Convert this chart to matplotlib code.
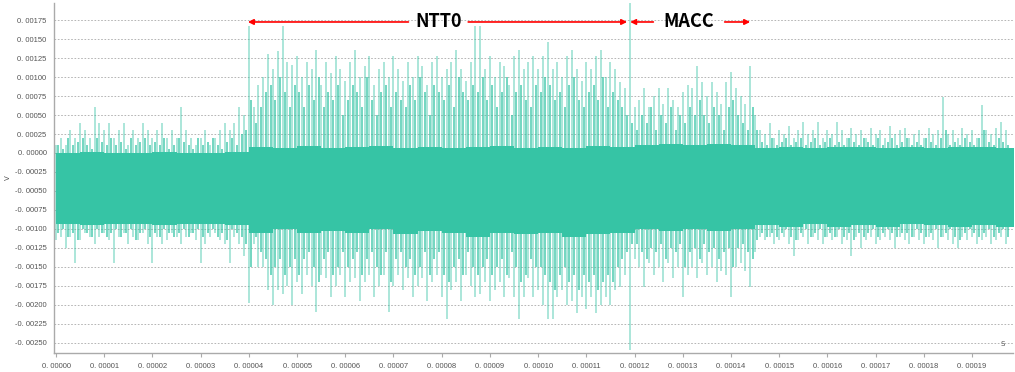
import numpy as np
import matplotlib.pyplot as plt
from matplotlib.ticker import FixedLocator, FuncFormatter

# trace envelope, one value per 1 us bin, in units of 1e-4 V
spike_hi = [
    # 0 - 39 us
    1, 2, 1, 3, 2, 4, 3, 2, 6, 4,
    3, 4, 2, 3, 4, 1, 3, 2, 4, 3,
    2, 3, 4, 2, 3, 2, 6, 3, 2, 1,
    2, 3, 1, 2, 3, 4, 3, 4, 6, 5,
    # 40 - 119 us (NTT0)
    16.7, 6, 9, 10, 13, 11, 13.4, 16.7, 12, 11.6,
    12.7, 10, 12, 11, 13.6, 9, 12, 10.5, 12.7, 11,
    9.5, 12, 13.6, 10, 11.5, 12.7, 9, 11, 12, 10,
    12.7, 11, 9.5, 12, 10, 12.7, 11.5, 9, 12, 12.7,
    10, 11, 12, 13.6, 11, 9.5, 12, 16.7, 16.7, 11,
    12.7, 10, 12, 11.5, 9, 12.7, 13.6, 11, 12, 12.7,
    11, 12.7, 14.6, 11, 12, 10, 12.7, 13.6, 11, 9.5,
    12, 11, 12.7, 13.6, 10, 12, 11, 9.3, 8.5, 19.8,
    # 120 - 145 us (MACC)
    6, 7, 8.5, 6, 7.5, 8.5, 6.5, 8.5, 7, 6,
    8, 9, 8.5, 11.4, 9.3, 7.5, 9.3, 8, 6.5, 9.3,
    10.7, 8.5, 7.5, 6.5, 11.4, 5,
    # 146 - 197 us
    3, 2.5, 4, 2, 3, 2.5, 3.5, 2, 3, 4.1,
    2.5, 3, 4.1, 2, 3, 2.5, 4.1, 3, 2, 3.3,
    2.5, 3, 2, 3.3, 2.5, 3, 2, 3.5, 2.5, 3,
    3.3, 2, 2.5, 3, 2, 3.3, 2.5, 3, 7.4, 2.5,
    3, 2, 3.3, 2.5, 3, 2, 6.3, 3, 2.5, 3.3,
    4.1, 3,
]
spike_lo = [
    -11.5, -11, -12.5, -11, -14.5, -11.5, -10.5, -11, -12, -11,
    -10.5, -11.5, -14.5, -11, -10.5, -12, -11, -11.5, -10.5, -12,
    -14.5, -11, -12, -11.5, -10.5, -11, -12, -11, -10.5, -11.5,
    -14.5, -12, -11, -10.5, -11.5, -12, -14.5, -11, -12, -13.5,
    -19.8, -12, -15, -15, -18, -20, -18, -18.5, -17.5, -20,
    -17, -18.5, -16, -17.5, -20.9, -16, -16.5, -19, -17.5, -16,
    -19, -17, -16.5, -19.5, -17, -16, -19, -17.5, -16, -20.9,
    -17.5, -16, -18, -16.5, -19, -17.5, -16.5, -19.5, -17, -16,
    -19, -21.9, -18, -17, -19.5, -16, -17.5, -19, -18.5, -17,
    -19.5, -18, -17, -19, -16.5, -19, -21.9, -19, -16.5, -19,
    -18, -20, -21.9, -21.9, -19, -18, -20, -19.5, -21, -19,
    -20.5, -19, -21, -20, -19, -20, -18, -17.6, -16, -25.9,
    -14, -15, -17.6, -14.5, -16, -15, -17, -14.5, -16.5, -15,
    -18.9, -16, -15, -16.5, -14.5, -16, -15, -17, -15.5, -16,
    -18.9, -15, -14.5, -15.5, -17.6, -13,
    -11, -11.5, -11, -12, -11.5, -11, -12, -13.6, -11.5, -11,
    -12, -11, -11.5, -12, -11, -11.5, -11, -12, -11.5, -13.6,
    -11, -12.5, -11.5, -11, -12, -11.5, -11, -11.5, -12.5, -11,
    -11.5, -12, -11, -11.5, -12, -11, -11.5, -12.5, -11, -11.5,
    -12, -12.5, -11, -11.5, -11, -12, -11.5, -11, -12, -11.5,
    -11, -12,
]
# secondary (typical) swing per 1 us bin, units of 1e-4 V
mid_hi = [
    1, 0.5, 2, 1, 1.5, 2, 1, 0.5, 2, 1.5,
    1, 2, 1, 1.5, 0.5, 2, 1, 1.5, 2, 1,
    1.5, 1, 2, 0.5, 1, 2, 1.5, 1, 0.5, 2,
    1, 1.5, 2, 1, 0.5, 1.5, 2, 1, 2.5, 3,
    7, 4, 6, 8, 9, 7, 10, 8, 6, 9,
    8, 6, 9, 7, 10, 6, 8, 7, 9, 5,
    7, 9, 8, 6, 10, 7, 5, 8, 9, 6,
    8, 7, 6, 9, 7, 10, 8, 5, 9, 8,
    7, 9, 6, 10, 8, 7, 9, 8, 10, 7,
    9, 6, 8, 10, 5, 8, 9, 7, 6, 9,
    8, 10, 9, 7, 8, 6, 9, 10, 7, 6,
    8, 9, 7, 10, 6, 8, 7, 6, 5, 4,
    3, 5, 4, 6, 3, 5, 4, 6, 3, 5,
    4, 6, 5, 7, 5, 4, 6, 5, 3, 6,
    7, 5, 4, 3, 6, 3,
    1.5, 1, 2, 1, 1.5, 2, 1, 1.5, 2, 1,
    1.5, 2, 1, 1.5, 2, 1, 1.5, 1, 2, 1.5,
    1, 2, 1.5, 1, 2, 1, 1.5, 2, 1, 1.5,
    2, 1, 1.5, 1, 2, 1.5, 1, 2, 3, 1,
    1.5, 1, 2, 1.5, 1, 2, 3, 1.5, 1, 2,
    1.5, 1,
]
mid_lo = [
    -10.5, -10, -11, -10.5, -11.5, -10, -10.5, -11, -10, -10.5,
    -11, -10.5, -10, -11, -10.5, -10, -11.5, -10.5, -10, -11,
    -10.5, -11, -10, -10.5, -11, -10.5, -10, -11, -10.5, -10,
    -11, -10.5, -10, -11, -10.5, -11.5, -10, -10.5, -11, -12,
    -15, -11, -13, -14, -16, -15, -14, -16, -15, -14,
    -16, -14, -13, -15, -17, -14, -13, -16, -15, -13,
    -15, -14, -13, -16, -14, -13, -15, -16, -13, -17,
    -14, -13, -15, -14, -16, -15, -13, -16, -14, -13,
    -16, -17, -15, -14, -16, -13, -15, -16, -15, -14,
    -16, -15, -14, -16, -13, -15, -17, -16, -14, -15,
    -15, -16, -17, -18, -16, -15, -17, -16, -18, -16,
    -17, -16, -18, -17, -16, -17, -15, -14, -13, -12,
    -12, -13, -14, -12.5, -13, -12, -14, -12.5, -13, -12,
    -15, -13, -12.5, -14, -12, -13, -12.5, -14, -13, -12.5,
    -15, -12.5, -12, -13, -14, -11.5,
    -10.5, -11, -10.5, -11, -10.5, -10, -11, -11.5, -10.5, -10,
    -11, -10.5, -10, -11, -10.5, -11, -10, -11, -10.5, -11.5,
    -10.5, -11, -10.5, -10, -11, -10.5, -10, -10.5, -11, -10.5,
    -10.5, -11, -10, -10.5, -11, -10.5, -10, -11, -10.5, -10,
    -11, -11.5, -10.5, -10, -10.5, -11, -10.5, -10, -11, -10.5,
    -10, -11,
]
# dense core band, one value per 5 us, units of 1e-4 V
core_hi = [0, 0.1, 0, 0, 0.1, 0, 0, 0.1,
           0.8, 0.6, 0.9, 0.6, 0.8, 0.9, 0.6, 0.8, 0.6, 0.8, 0.9, 0.6, 0.8, 0.6, 0.9, 0.8,
           1.0, 1.2, 1.0, 1.2, 1.0,
           0.6, 0.8, 0.6, 0.8, 0.8, 0.6, 0.8, 0.6, 0.8, 0.8, 0.6]
core_lo = [-9.3, -9.5, -9.3, -9.4, -9.5, -9.3, -9.4, -9.5,
           -10.5, -10, -10.5, -10.3, -10.5, -10, -10.7, -10.3, -10.5, -11, -10.5, -10.7, -10.5, -11, -10.7, -10.5,
           -10, -10.3, -10, -10.3, -10,
           -9.5, -9.7, -9.3, -9.7, -9.5, -9.7, -9.3, -9.5, -9.7, -9.5, -9.7]

x_ticks = [i * 1e-5 for i in range(20)]
y_ticks = [-0.0025 + i * 0.00025 for i in range(18)]
segments = [("NTT0", 3.98e-5, 1.1846e-4, 7.93e-5, 0.62e-5),
            ("MACC", 1.1909e-4, 1.4398e-4, 1.313e-4, 0.74e-5)]

teal = '#36c4a5'
tick_font = ['Liberation Sans Narrow', 'Liberation Sans', 'DejaVu Sans']

fig = plt.figure(figsize=(10.15, 3.72), dpi=100)
ax = fig.add_axes([53.5 / 1015, 19 / 372, (1013 - 53.5) / 1015, 350 / 372])

bins = np.arange(len(spike_hi)) * 1e-6
ax.vlines(bins, np.array(spike_lo) * 1e-4, np.array(spike_hi) * 1e-4,
          color=teal, lw=1.3, alpha=0.45, zorder=2)
ax.vlines(bins + 0.5e-6, np.array(mid_lo) * 1e-4, np.array(mid_hi) * 1e-4,
          color=teal, lw=1.3, alpha=0.75, zorder=2)

tc = np.arange(len(core_hi) + 1) * 5e-6
chi = np.append(core_hi, core_hi[-1]) * 1e-4
clo = np.append(core_lo, core_lo[-1]) * 1e-4
ax.fill_between(tc, clo, chi, step='post', color=teal, lw=0, zorder=3)

ax.set_xlim(-5.2e-7, 1.985e-4)
ax.set_ylim(-0.0026316, 0.0019737)

ax.xaxis.set_major_locator(FixedLocator(x_ticks))
ax.yaxis.set_major_locator(FixedLocator(y_ticks))
fmt = FuncFormatter(lambda val, pos: f"{val:.5f}".replace(".", ". ").replace("-0. 00000", "0. 00000"))
ax.xaxis.set_major_formatter(fmt)
ax.yaxis.set_major_formatter(fmt)
ax.tick_params(axis='x', length=3, width=0.8, color='#aaaaaa', labelsize=5.5, labelcolor='#555555', pad=4)
ax.tick_params(axis='y', length=0, labelsize=5.5, labelcolor='#555555', pad=5)
for lab in ax.get_xticklabels() + ax.get_yticklabels():
    lab.set_family(tick_font)

ax.grid(axis='y', color='#aaaaaa', ls=(0, (2, 2)), lw=0.6, zorder=1)
for s in ['top', 'right']:
    ax.spines[s].set_visible(False)
for s in ['left', 'bottom']:
    ax.spines[s].set_color('#aaaaaa')
    ax.spines[s].set_linewidth(1.0)

fig.text(8 / 1015, 1 - 178 / 372, 'V', rotation=90, fontsize=5, color='#555555', va='center', ha='center')
ax.text(0.9895, 0.027, 'S', transform=ax.transAxes, fontsize=5, color='#555555', ha='center', va='center')

arrow_y = 0.001724
arrow_kw = dict(arrowstyle='-|>', color='red', lw=1.2, mutation_scale=8, shrinkA=0, shrinkB=0)
for name, t0, t1, tm, gap in segments:
    ax.text(tm, arrow_y, name, fontsize=13, fontweight='bold', ha='center', va='center',
            family=['Noto Sans CJK SC', 'DejaVu Sans'], zorder=6)
    ax.annotate('', xy=(t0, arrow_y), xytext=(tm - gap, arrow_y), arrowprops=arrow_kw, zorder=6)
    ax.annotate('', xy=(t1, arrow_y), xytext=(tm + gap, arrow_y), arrowprops=arrow_kw, zorder=6)

fig.savefig('out.png', dpi=100)
